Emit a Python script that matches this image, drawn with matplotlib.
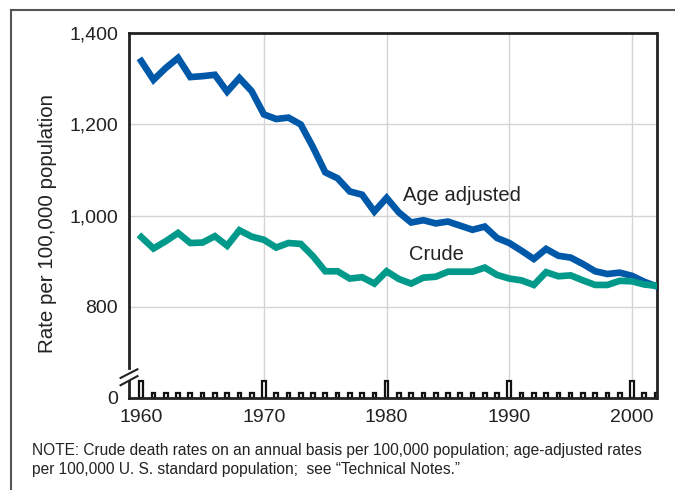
import matplotlib
matplotlib.use("Agg")
import matplotlib.pyplot as plt
from matplotlib.lines import Line2D

plt.rcParams['font.family'] = ['Liberation Sans', 'DejaVu Sans']

years = list(range(1960, 2003))
age_adjusted = [1339, 1298, 1324, 1346, 1304, 1306, 1309, 1272, 1302, 1273,
                1222, 1212, 1215, 1200, 1150, 1095, 1082, 1053, 1046, 1009,
                1039, 1007, 985, 990, 983, 987, 978, 969, 976, 951,
                940, 923, 905, 927, 912, 908, 894, 878, 872, 875,
                868, 855, 845]
crude = [953, 928, 944, 962, 940, 941, 955, 934, 968, 954,
         947, 930, 940, 938, 911, 878, 878, 862, 865, 851,
         878, 861, 851, 864, 866, 877, 877, 877, 886, 870,
         862, 858, 848, 876, 867, 869, 858, 848, 848, 857,
         856, 849, 846]
y_ticks = [600, 800, 1000, 1200, 1400]
y_tick_labels = ['0', '800', '1,000', '1,200', '1,400']
x_ticks = [1960, 1970, 1980, 1990, 2000]

blue = '#0058a8'
teal = '#00998a'

fig = plt.figure(figsize=(6.75, 4.9), dpi=100)
ax = fig.add_axes([129 / 675, 1 - 398 / 490, (656.5 - 129) / 675, (398 - 33.3) / 490])

# outer frame of the figure
fig.add_artist(Line2D([11 / 675, 11 / 675], [0, 1 - 10 / 490], transform=fig.transFigure,
                      color='#555555', lw=1.5))
fig.add_artist(Line2D([11 / 675, 1], [1 - 10 / 490, 1 - 10 / 490], transform=fig.transFigure,
                      color='#555555', lw=1.5))

ax.set_xlim(1959, 2002)
ax.set_ylim(600, 1400)

for x in x_ticks[1:]:
    ax.axvline(x, color='#d4d4d4', lw=1.0, zorder=0)
for y in y_ticks[1:-1]:
    ax.axhline(y, color='#d4d4d4', lw=1.0, zorder=0)

# year tick boxes along the bottom
tick_h = [38 if y % 10 == 0 else 12 for y in years]
ax.bar(years, tick_h, bottom=600, width=0.3, facecolor='white', edgecolor='#111111',
       lw=1.6, zorder=2)

ax.plot(years, age_adjusted, color=blue, lw=4.8, solid_joinstyle='miter', zorder=3)
ax.plot(years, crude, color=teal, lw=4.8, solid_joinstyle='miter', zorder=3)

ax.text(1981.3, 1044, 'Age adjusted', fontsize=14.5, va='center', ha='left', color='#222222')
ax.text(1981.8, 914, 'Crude', fontsize=14.5, va='center', ha='left', color='#222222')

ax.set_xticks(x_ticks)
ax.set_xticklabels([str(x) for x in x_ticks])
ax.set_yticks(y_ticks)
ax.set_yticklabels(y_tick_labels)
ax.tick_params(axis='both', length=0, labelsize=14, colors='#222222')
ax.tick_params(axis='y', pad=8)
ax.tick_params(axis='x', pad=8)

for side in ['top', 'right', 'bottom']:
    ax.spines[side].set_linewidth(2.0)
    ax.spines[side].set_color('#222222')
ax.spines['left'].set_visible(False)

# left spine with a break
tr = ax.get_yaxis_transform()
ax.add_line(Line2D([0, 0], [1400, 665], transform=tr, color='#222222', lw=2.0, clip_on=False))
ax.add_line(Line2D([0, 0], [638, 600], transform=tr, color='#222222', lw=2.0, clip_on=False))
ax.add_line(Line2D([-0.016, 0.016], [644, 663], transform=tr, color='#222222', lw=1.5, clip_on=False))
ax.add_line(Line2D([-0.016, 0.016], [628, 648], transform=tr, color='#222222', lw=1.5, clip_on=False))

fig.text(48 / 675, 1 - 223 / 490, 'Rate per 100,000 population', rotation=90,
         fontsize=14.8, va='center', ha='center', color='#222222')

fig.text(32 / 675, 1 - 450 / 490,
         'NOTE: Crude death rates on an annual basis per 100,000 population; age-adjusted rates',
         fontsize=11.2, va='center', ha='left', color='#222222')
fig.text(32 / 675, 1 - 469 / 490,
         'per 100,000 U. S. standard population;  see \u201cTechnical Notes.\u201d',
         fontsize=11.2, va='center', ha='left', color='#222222')

fig.savefig('out.png', dpi=100)
